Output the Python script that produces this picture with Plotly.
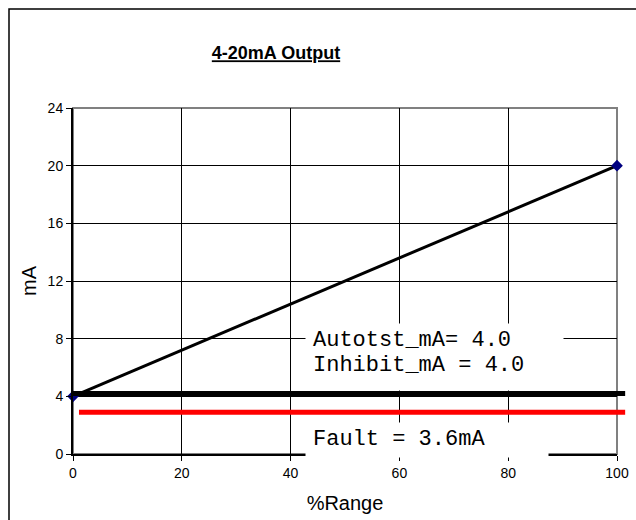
import plotly.graph_objects as go

# 4-20 mA transfer line
pct_range = [0, 100]
output_mA = [4, 20]

# horizontal level lines as drawn in the picture
level_mA = [4.2, 2.9]
level_start = [0, 1.1]
level_end = [101.5, 101.5]
level_colors = ["black", "red"]

x_ticks = [0, 20, 40, 60, 80, 100]
y_ticks = [0, 4, 8, 12, 16, 20, 24]
x_range = [0, 100]

W, H = 636, 520
L, R, T, B = 73, 19, 108, 66
pw, ph = W - L - R, H - T - B


def px(x):
    return (x - L) / pw


def py(y):
    return (H - B - y) / ph


fig = go.Figure()

fig.add_trace(go.Scatter(
    x=pct_range, y=output_mA, mode="lines+markers",
    line=dict(color="black", width=3),
    marker=dict(symbol="diamond", size=9, color="#000080"),
    cliponaxis=False, showlegend=False,
))

# plot area border (gray)
fig.add_shape(type="rect", xref="x domain", yref="y domain", x0=0, x1=1, y0=0, y1=1,
              line=dict(color="#808080", width=2), layer="below")

# level lines run a little past the plot edge, so use paper x
span = x_range[1] - x_range[0]
for y, x0, x1, c in zip(level_mA, level_start, level_end, level_colors):
    fig.add_shape(type="line", xref="paper", yref="y",
                  x0=(x0 - x_range[0]) / span, x1=(x1 - x_range[0]) / span, y0=y, y1=y,
                  line=dict(color=c, width=5), layer="above")

# outer chart frame
fig.add_shape(type="rect", xref="paper", yref="paper",
              x0=px(9), x1=1.2, y0=-0.4, y1=py(9),
              line=dict(color="black", width=1.5))

mono = dict(family="Liberation Mono", size=22, color="black")

# white boxes behind the text
for x0, x1, y0, y1 in [(305, 562, 323, 389), (305, 547, 422, 456)]:
    fig.add_annotation(text=" ", xref="paper", yref="paper",
                       x=px(x0), y=py(y0), xanchor="left", yanchor="top",
                       width=x1 - x0, height=y1 - y0, borderpad=0,
                       bgcolor="white", showarrow=False)

for txt, yc in [("Autotst_mA= 4.0", 340), ("Inhibit_mA = 4.0", 365), ("Fault = 3.6mA", 439)]:
    fig.add_annotation(text=txt, xref="paper", yref="paper",
                       x=px(312), y=py(yc), xanchor="left", yanchor="middle",
                       showarrow=False, font=mono, borderpad=0)

fig.update_layout(
    width=W, height=H,
    margin=dict(l=L, r=R, t=T, b=B, autoexpand=False),
    paper_bgcolor="white", plot_bgcolor="white",
    font=dict(family="Arial, Liberation Sans", color="black"),
    title=dict(text="<b><u>4-20mA Output</u></b>", font=dict(size=18),
               x=px(276), xref="paper", xanchor="center",
               y=1 - 53 / H, yanchor="middle"),
    xaxis=dict(
        range=x_range, tickvals=x_ticks, showgrid=False, automargin=False,
        minor=dict(tickvals=x_ticks[1:-1], showgrid=True, gridcolor="black", gridwidth=1, ticks=""),
        showline=True, linecolor="black", linewidth=2, zeroline=False,
        ticks="outside", ticklen=5, tickcolor="black", tickfont=dict(size=14),
        title=dict(text="%Range", font=dict(size=20), standoff=16),
    ),
    yaxis=dict(
        range=[0, 24], tickvals=y_ticks, showgrid=False, automargin=False,
        minor=dict(tickvals=y_ticks[1:-1], showgrid=True, gridcolor="black", gridwidth=1, ticks=""),
        showline=True, linecolor="black", linewidth=2, zeroline=False,
        ticks="outside", ticklen=5, tickcolor="black", tickfont=dict(size=14),
        title=dict(text="mA", font=dict(size=20), standoff=6),
    ),
)

fig.write_html("out.html", config={"displayModeBar": False},
               post_script="document.body.style.margin='0';")
